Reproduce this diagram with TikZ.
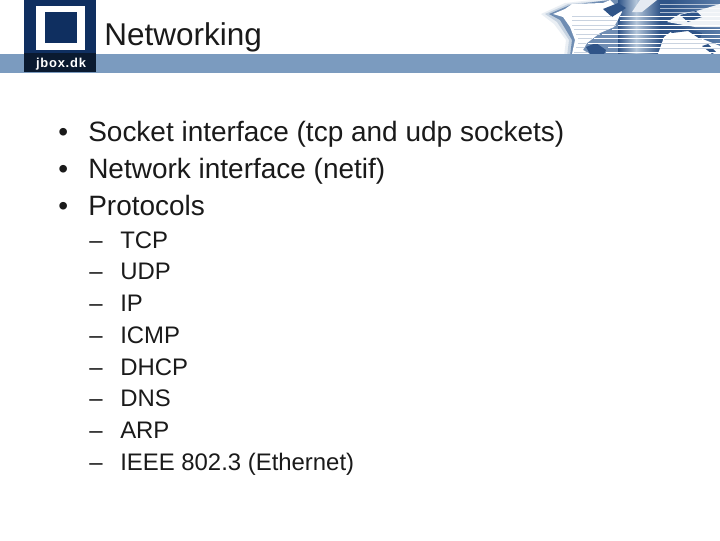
\documentclass[tikz,border=0pt]{standalone}
\usepackage{fontspec}
\setmainfont{Liberation Sans}
\definecolor{bodyink}{HTML}{1A1A1A}
\definecolor{barblue}{HTML}{7B9BBF}
\definecolor{logonavy}{HTML}{0F2F60}
\definecolor{logoblack}{HTML}{0A1A30}
\definecolor{globeblue}{HTML}{5A7CA8}
\definecolor{globedark}{HTML}{2F5488}
\definecolor{globepale}{HTML}{B4C6DA}
\definecolor{stripegrey}{HTML}{C9D3E0}
\tikzset{
	titletext/.style={anchor=base west, inner sep=0pt, text=bodyink, font=\fontsize{22.4}{26}\selectfont},
	topictext/.style={anchor=base west, inner sep=0pt, text=bodyink, font=\fontsize{19.9}{24}\selectfont},
	subtext/.style={anchor=base west, inner sep=0pt, text=bodyink, font=\fontsize{17}{20}\selectfont},
}
\begin{document}
\begin{tikzpicture}[x=0.025cm, y=-0.025cm]
	%%%%% START %%%%%
	\useasboundingbox (0, 0) rectangle (720, 540);
	\fill[white] (0, 0) rectangle (720, 540);

	% globe
	\begin{scope}
		\clip (530, 0) rectangle (720, 54);
		\fill[globeblue, opacity=0.12] (541, 14) -- (565, 3) -- (610, -2) -- (720, -2) -- (720, 56) -- (564, 56) -- (566, 40) -- (554, 24) -- cycle;
		\fill[globeblue, opacity=0.25] (545, 14) -- (568, 4) -- (610, 0) -- (720, 0) -- (720, 56) -- (567, 56) -- (569, 40) -- (557, 22) -- cycle;
		\fill[globeblue, opacity=0.8] (549, 14) -- (570, 5) -- (610, 0) -- (720, 0) -- (720, 56) -- (570, 56) -- (572, 40) -- (560, 20) -- cycle;
		\shade[left color=globedark, right color=globepale] (618, 0) rectangle (636, 54);
		\shade[left color=globepale, right color=globedark] (636, 0) rectangle (660, 54);
		\fill[globedark] (660, 0) rectangle (670, 54);
		\shade[left color=globedark, right color=globeblue] (670, 0) rectangle (720, 54);
		% land
		\fill[white] (553, 14) -- (565, 9) -- (572, 4) -- (603, 3) -- (610, 0) -- (622, 12) -- (614, 27) -- (600, 33) -- (587, 43) -- (583, 50) -- (590, 54) -- (572, 54) -- (575, 40) -- (570, 27) -- (563, 17) -- cycle;
		\fill[white] (658, 54) -- (664, 37) -- (672, 31) -- (690, 29) -- (700, 38) -- (720, 46) -- (720, 54) -- cycle;
		\fill[white!90!globeblue] (667, 22) -- (680, 14) -- (700, 10) -- (720, 4) -- (720, 27) -- (695, 27) -- cycle;
		\fill[white!85!globeblue] (632, 12) -- (640, 0) -- (657, 0) -- (642, 12) -- cycle;
		% dark coasts and lakes
		\fill[globedark] (603, 9) -- (618, 3) -- (626, 8) -- (612, 17) -- cycle;
		\fill[globedark] (586, 47) -- (596, 43) -- (606, 50) -- (604, 54) -- (590, 54) -- cycle;
		\fill[globedark] (668, 30) -- (680, 27) -- (702, 33) -- (700, 39) -- (688, 31) -- (672, 33) -- cycle;
		\fill[globedark] (680, 15) -- (696, 11) -- (702, 17) -- (688, 22) -- cycle;
		\fill[globedark] (702, 46) -- (708, 44) -- (716, 52) -- (712, 54) -- cycle;
		% stripes
		\draw[stripegrey, line width=0.6pt] (572, 16) -- (612, 16) (572, 20.5) -- (618, 20.5) (572, 25) -- (616, 25) (574, 29.5) -- (608, 29.5) (576, 34) -- (600, 34) (578, 38.5) -- (592, 38.5) (578, 43) -- (586, 43) (576, 47.5) -- (584, 47.5) (574, 52) -- (588, 52);
		\draw[white, line width=0.6pt] (620, 16) -- (720, 16) (620, 20.5) -- (720, 20.5) (618, 25) -- (720, 25) (612, 29.5) -- (720, 29.5) (602, 34) -- (720, 34) (594, 38.5) -- (720, 38.5) (588, 43) -- (720, 43) (608, 47.5) -- (720, 47.5) (606, 52) -- (720, 52);
		\draw[stripegrey, line width=0.6pt] (664, 39) -- (702, 39) (660, 43.5) -- (716, 43.5) (660, 48) -- (720, 48);
		\draw[white, opacity=0.6, line width=0.5pt] (660, 4) -- (720, 4) (660, 8) -- (720, 8) (660, 12) -- (720, 12);
	\end{scope}

	% bar and logo
	\fill[barblue] (0, 54) rectangle (720, 73);
	\fill[logonavy] (24, 0) rectangle (96, 54);
	\fill[logoblack] (24, 53) rectangle (96, 72);
	\fill[white] (36, 6) rectangle (85, 50);
	\fill[logonavy] (45, 12) rectangle (77, 43);
	\node[anchor=base, inner sep=0pt, text=white, font=\addfontfeatures{LetterSpace=6}\fontsize{9.2}{11}\selectfont\bfseries] (logotext) at (61, 67) {jbox.dk};

	% title
	\node[titletext] (title) at (104, 45) {Networking};

	% first level
	\node[topictext] (bulleta) at (58, 141.5) {•};
	\node[topictext] (socket) at (88, 141.5) {Socket interface (tcp and udp sockets)};
	\node[topictext] (bulletb) at (58, 178.5) {•};
	\node[topictext] (netif) at (88, 178.5) {Network interface (netif)};
	\node[topictext] (bulletc) at (58, 215.5) {•};
	\node[topictext] (protocols) at (88, 215.5) {Protocols};

	% second level
	\node[subtext] (dasha) at (89, 248) {–};
	\node[subtext] (tcp) at (120, 248) {TCP};
	\node[subtext] (dashb) at (89, 279.5) {–};
	\node[subtext] (udp) at (120, 279.5) {UDP};
	\node[subtext] (dashc) at (89, 311) {–};
	\node[subtext] (ip) at (120, 311) {IP};
	\node[subtext] (dashd) at (89, 343) {–};
	\node[subtext] (icmp) at (120, 343) {ICMP};
	\node[subtext] (dashe) at (89, 375) {–};
	\node[subtext] (dhcp) at (120, 375) {DHCP};
	\node[subtext] (dashf) at (89, 406.5) {–};
	\node[subtext] (dns) at (120, 406.5) {DNS};
	\node[subtext] (dashg) at (89, 438) {–};
	\node[subtext] (arp) at (120, 438) {ARP};
	\node[subtext] (dashh) at (89, 470) {–};
	\node[subtext] (ieee) at (120, 470) {IEEE 802.3 (Ethernet)};
	%%%%% END %%%%%
\end{tikzpicture}
\end{document}
